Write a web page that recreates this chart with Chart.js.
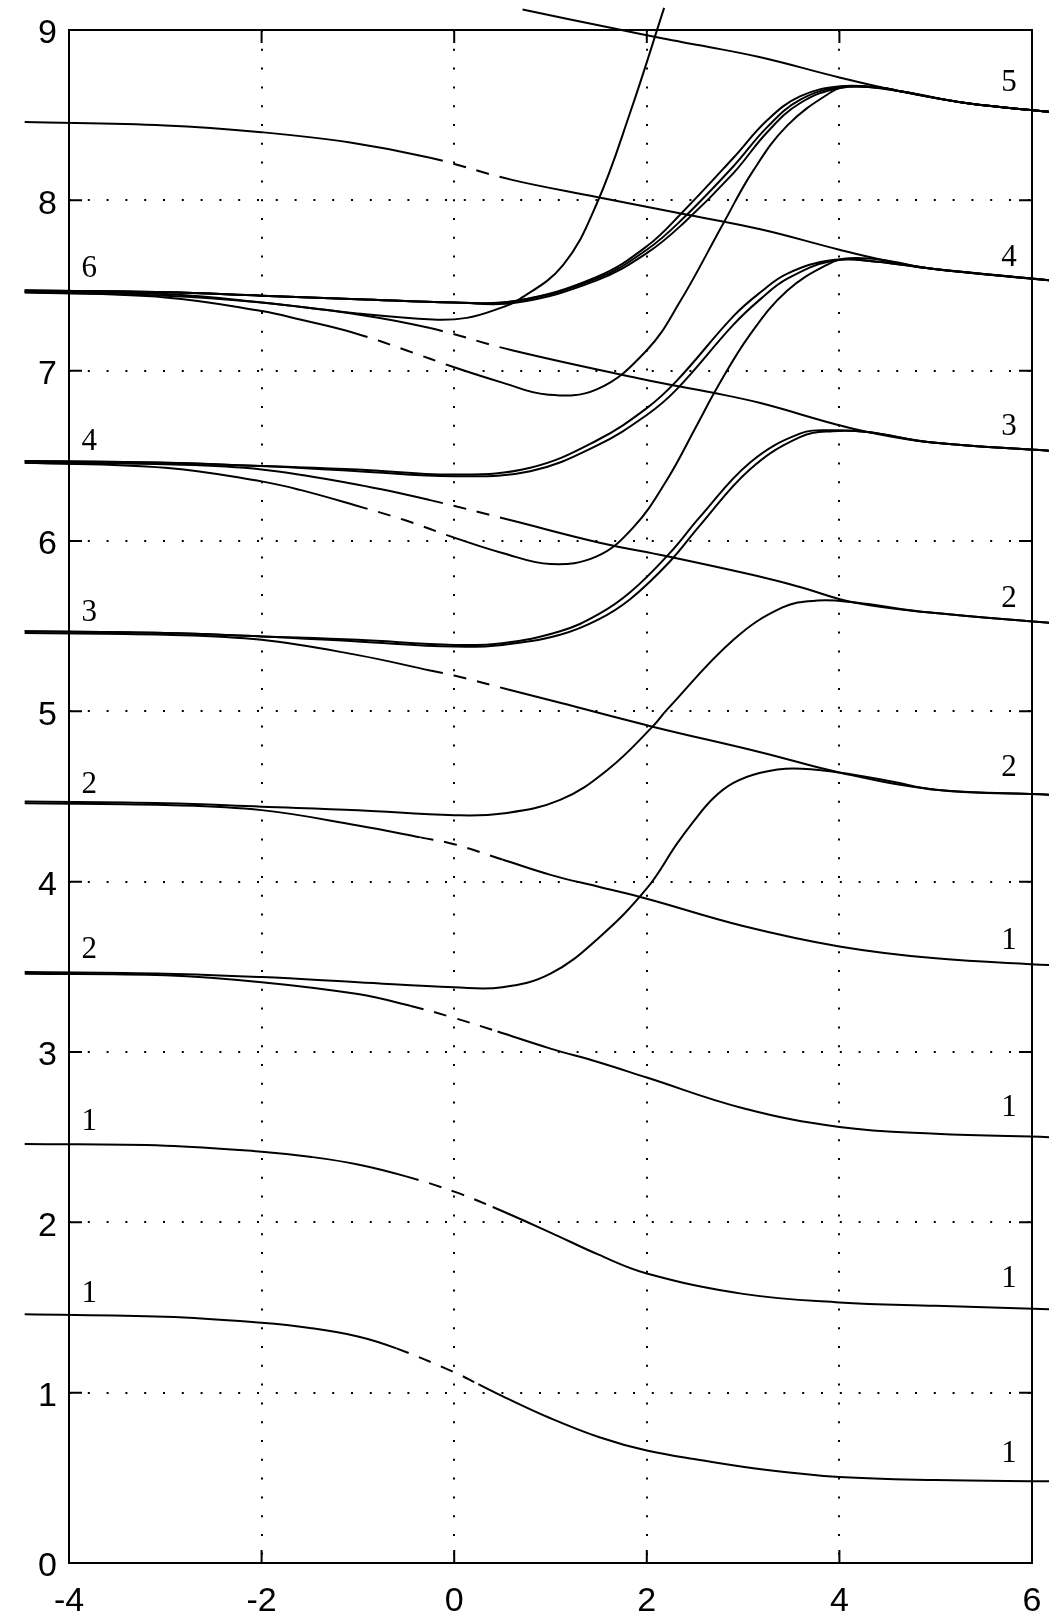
<!DOCTYPE html>
<html>
<head>
<meta charset="utf-8">
<script src="https://cdn.jsdelivr.net/npm/chart.js@4.4.1/dist/chart.umd.min.js"></script>
<style>
  html, body { margin: 0; padding: 0; background: #fff; overflow: hidden; }
  #wrap { position: relative; width: 1049px; height: 1621px; }
  #chart { display: block; }
</style>
</head>
<body>
<div id="wrap"><canvas id="chart"></canvas></div>
<script>
// axis ticks
const xTicks = [-4, -2, 0, 2, 4, 6];
const yTicks = [0, 1, 2, 3, 4, 5, 6, 7, 8, 9];

// descending curves [x, y]
const lineA1 = [[-4.46,1.46],[-3,1.445],[-2,1.41],[-1.5,1.38],[-1,1.33],[-0.6,1.26],[0,1.12],[0.25,1.05],[0.5,0.98],[1,0.85],[1.5,0.74],[2,0.66],[2.55,0.605],[3.25,0.546],[4,0.505],[5,0.487],[6.18,0.48]];
const lineA2 = [[-4.46,2.46],[-3,2.45],[-2,2.415],[-1.5,2.385],[-1,2.34],[-0.5,2.27],[0,2.18],[0.4,2.09],[1,1.94],[1.5,1.81],[2,1.70],[3,1.58],[4,1.53],[5,1.51],[6.18,1.49]];
const lineA3 = [[-4.46,3.46],[-3,3.45],[-2,3.41],[-1,3.34],[-0.45,3.27],[0,3.20],[0.45,3.12],[1,3.02],[1.5,2.94],[2,2.85],[3,2.67],[4,2.56],[5,2.52],[6.18,2.50]];
const lineA4 = [[-4.46,4.46],[-3,4.45],[-2,4.42],[-1,4.33],[-0.35,4.26],[0,4.22],[0.5,4.13],[1,4.04],[1.5,3.97],[2,3.90],[3,3.74],[4,3.62],[5,3.55],[6.18,3.51]];
const lineA5 = [[-4.46,5.46],[-3,5.45],[-2,5.42],[-1,5.33],[-0.25,5.24],[0,5.21],[0.55,5.13],[1.1,5.05],[2.06,4.91],[3.18,4.76],[4.01,4.64],[5,4.54],[6.18,4.51]];
const lineA6 = [[-4.46,6.46],[-3,6.45],[-2,6.42],[-1,6.33],[-0.25,6.24],[0.6,6.12],[1.51,5.99],[2.21,5.91],[3.18,5.79],[3.59,5.73],[4.14,5.64],[4.94,5.58],[6.18,5.52]];
const lineA7 = [[-4.46,7.46],[-3,7.45],[-2,7.40],[-1,7.33],[-0.25,7.25],[0.6,7.12],[1.96,6.95],[2.69,6.87],[3.18,6.81],[3.93,6.69],[4.29,6.64],[4.94,6.58],[6.18,6.53]];
const lineA8 = [[-4.46,8.46],[-3,8.44],[-2,8.40],[-1.08,8.34],[-0.25,8.25],[0.6,8.12],[1.48,8.02],[2.38,7.92],[3.18,7.83],[4.0,7.71],[4.45,7.65],[4.94,7.60],[6.18,7.53]];
const lineA9 = [[0.71,9.12],[1.65,9.01],[2.17,8.95],[2.55,8.91],[3.18,8.84],[4.01,8.72],[4.63,8.64],[5.33,8.57],[6.18,8.52]];

// rising curves
const riseB1 = [[-4.46,3.47],[-3,3.46],[-2,3.44],[-1,3.41],[0,3.38],[0.5,3.38],[1,3.46],[1.5,3.67],[2,3.96],[2.31,4.22],[2.48,4.35],[2.69,4.49],[2.9,4.58],[3.18,4.64],[3.52,4.665],[4.01,4.64],[4.53,4.59],[5,4.54],[6.18,4.51]];
const riseB2 = [[-4.46,4.47],[-3,4.46],[-2,4.44],[-1,4.42],[0,4.39],[0.5,4.40],[1.1,4.48],[1.6,4.66],[2.06,4.91],[2.21,5.01],[2.9,5.42],[3.41,5.61],[3.77,5.65],[4.14,5.64],[4.94,5.58],[6.18,5.52]];
const riseB3a = [[-4.46,5.47],[-3,5.46],[-2,5.44],[-1,5.42],[0,5.39],[0.5,5.40],[1.1,5.47],[1.5,5.57],[1.83,5.70],[2.24,5.93],[2.55,6.14],[3.07,6.46],[3.59,6.63],[3.93,6.65],[4.29,6.64],[4.94,6.58],[6.18,6.53]];
const riseB3b = [[-4.46,5.47],[-3,5.46],[-2,5.44],[-1,5.41],[0,5.38],[0.5,5.39],[1.1,5.45],[1.5,5.54],[1.83,5.66],[2.24,5.88],[2.55,6.09],[3.07,6.42],[3.59,6.61],[3.93,6.645],[4.29,6.64],[4.94,6.58],[6.18,6.53]];
const riseB4a = [[-4.46,6.47],[-3,6.46],[-2,6.44],[-1,6.42],[0,6.39],[0.79,6.43],[1.48,6.59],[2.0,6.78],[2.31,6.94],[2.9,7.32],[3.18,7.46],[3.46,7.57],[3.93,7.65],[4.39,7.64],[4.94,7.60],[6.18,7.53]];
const riseB4b = [[-4.46,6.47],[-3,6.46],[-2,6.44],[-1,6.41],[0,6.38],[0.79,6.41],[1.48,6.56],[2.0,6.74],[2.31,6.89],[2.9,7.27],[3.18,7.42],[3.46,7.54],[3.93,7.645],[4.39,7.64],[4.94,7.60],[6.18,7.53]];
const riseB5a = [[-4.46,7.47],[-3,7.46],[-2,7.44],[-1,7.42],[0,7.40],[0.65,7.41],[1.48,7.55],[2.0,7.73],[2.37,7.93],[2.9,8.25],[3.25,8.47],[3.59,8.61],[4.01,8.67],[4.45,8.66],[4.63,8.64],[5.33,8.57],[6.18,8.52]];
const riseB5b = [[-4.46,7.47],[-3,7.46],[-2,7.44],[-1,7.42],[0,7.40],[0.65,7.41],[1.48,7.54],[2.0,7.71],[2.37,7.89],[2.9,8.20],[3.25,8.43],[3.59,8.59],[4.01,8.665],[4.45,8.66],[4.63,8.64],[5.33,8.57],[6.18,8.52]];
const riseB5c = [[-4.46,7.47],[-3,7.46],[-2,7.44],[-1,7.42],[0,7.40],[0.65,7.40],[1.48,7.53],[2.0,7.69],[2.37,7.86],[2.9,8.16],[3.25,8.40],[3.59,8.57],[4.01,8.66],[4.45,8.66],[4.63,8.64],[5.33,8.57],[6.18,8.52]];

// dipping curves and the steep one
const dipC1 = [[-4.46,6.46],[-3,6.43],[-2,6.35],[-1.6,6.30],[-1.03,6.21],[-0.5,6.12],[0,6.02],[0.5,5.93],[1.0,5.865],[1.48,5.91],[1.86,6.08],[2.21,6.36],[2.52,6.68],[2.73,6.90],[3.07,7.21],[3.46,7.47],[3.9,7.63],[4.1,7.66],[4.45,7.65],[4.94,7.60],[6.18,7.53]];
const dipC2 = [[-4.46,7.46],[-3,7.43],[-2,7.35],[-1.6,7.30],[-1.03,7.22],[-0.5,7.12],[0,7.02],[0.5,6.93],[0.96,6.86],[1.48,6.89],[2.0,7.12],[2.35,7.41],[2.79,7.86],[3.1,8.17],[3.46,8.44],[3.9,8.63],[4.1,8.67],[4.63,8.64],[5.33,8.57],[6.18,8.52]];
const steepS = [[-4.46,7.46],[-3,7.44],[-2,7.40],[-1.08,7.34],[-0.22,7.30],[0.13,7.31],[0.44,7.36],[0.68,7.42],[1.13,7.62],[1.48,7.98],[1.83,8.52],[2.18,9.13]];

// x ranges drawn dashed
const dashA1 = [-0.6, 0.25];
const dashA2 = [-0.5, 0.4];
const dashA3 = [-0.45, 0.45];
const dashA4 = [-0.35, 0.5];
const dashA5 = [-0.25, 0.55];
const dashA6 = [-0.25, 0.6];
const dashA7 = [-0.25, 0.6];
const dashA8 = [-0.25, 0.6];
const dashC = [-1.03, 0];

// level labels
const leftLabels = ['6', '4', '3', '2', '2', '1', '1'];
const leftLabelY = [7.60, 6.58, 5.58, 4.57, 3.60, 2.59, 1.58];
const rightLabels = ['5', '4', '3', '2', '2', '1', '1', '1', '1'];
const rightLabelY = [8.69, 7.66, 6.67, 5.66, 4.67, 3.65, 2.67, 1.67, 0.64];
const leftLabelX = -3.79;
const rightLabelX = 5.76;

const curves = [
  [lineA1, dashA1], [lineA2, dashA2], [lineA3, dashA3], [lineA4, dashA4],
  [lineA5, dashA5], [lineA6, dashA6], [lineA7, dashA7], [lineA8, dashA8], [lineA9, null],
  [riseB1, null], [riseB2, null], [riseB3a, null], [riseB3b, null],
  [riseB4a, null], [riseB4b, null], [riseB5a, null], [riseB5b, null], [riseB5c, null],
  [dipC1, dashC], [dipC2, dashC], [steepS, null]
];

const datasets = curves.map(([pts, dash]) => ({
  data: pts.map(p => ({ x: p[0], y: p[1] })),
  borderColor: '#000',
  borderWidth: 2,
  pointRadius: 0,
  fill: false,
  clip: false,
  tension: 0.4,
  segment: {
    borderDash: ctx => (dash && ctx.p0.parsed.x >= dash[0] - 1e-6 && ctx.p1.parsed.x <= dash[1] + 1e-6) ? [13, 11] : undefined
  }
}));

const sansFont = { family: '"Liberation Sans", Arial, Helvetica, sans-serif', size: 34 };
const hideEnds = (lo, hi) => ctx => (ctx.tick && (ctx.tick.value === lo || ctx.tick.value === hi)) ? 'rgba(0,0,0,0)' : '#000';

const framePlugin = {
  id: 'frame',
  beforeDatasetsDraw(chart) {
    const { ctx, chartArea: a, scales: { x, y } } = chart;
    ctx.save();
    ctx.strokeStyle = '#000';
    ctx.lineWidth = 2;
    ctx.strokeRect(a.left, a.top, a.right - a.left, a.bottom - a.top);
    ctx.beginPath();
    xTicks.forEach(v => {
      const px = x.getPixelForValue(v);
      ctx.moveTo(px, a.bottom); ctx.lineTo(px, a.bottom - 13);
      ctx.moveTo(px, a.top); ctx.lineTo(px, a.top + 13);
    });
    yTicks.forEach(v => {
      const py = y.getPixelForValue(v);
      ctx.moveTo(a.left, py); ctx.lineTo(a.left + 13, py);
      ctx.moveTo(a.right, py); ctx.lineTo(a.right - 13, py);
    });
    ctx.stroke();
    ctx.restore();
  },
  afterDraw(chart) {
    const { ctx, scales: { x, y } } = chart;
    ctx.save();
    ctx.fillStyle = '#000';
    ctx.font = '31px "Liberation Serif", "Times New Roman", serif';
    ctx.textAlign = 'center';
    ctx.textBaseline = 'middle';
    leftLabels.forEach((t, i) => ctx.fillText(t, x.getPixelForValue(leftLabelX), y.getPixelForValue(leftLabelY[i])));
    rightLabels.forEach((t, i) => ctx.fillText(t, x.getPixelForValue(rightLabelX), y.getPixelForValue(rightLabelY[i])));
    ctx.restore();
  }
};

new Chart(document.getElementById('chart'), {
  type: 'line',
  data: { datasets },
  plugins: [framePlugin],
  options: {
    responsive: true,
    maintainAspectRatio: false,
    animation: false,
    layout: { padding: { top: 30, right: 17, left: 0, bottom: 0 } },
    plugins: { legend: { display: false }, tooltip: { enabled: false } },
    scales: {
      x: {
        type: 'linear', min: -4, max: 6,
        afterBuildTicks: s => { s.ticks = xTicks.map(v => ({ value: v })); },
        afterFit: s => { s.height = 58; s.paddingLeft = 0; s.paddingRight = 0; },
        grid: { color: hideEnds(-4, 6), lineWidth: 2, drawTicks: false },
        border: { display: false, dash: [2, 16.8] },
        ticks: { color: '#000', font: sansFont, padding: 18, maxRotation: 0, autoSkip: false }
      },
      y: {
        type: 'linear', min: 0, max: 9,
        afterBuildTicks: s => { s.ticks = yTicks.map(v => ({ value: v })); },
        afterFit: s => { s.width = 69; s.paddingTop = 0; s.paddingBottom = 0; },
        grid: { color: hideEnds(0, 9), lineWidth: 2, drawTicks: false },
        border: { display: false, dash: [2, 16.8] },
        ticks: { color: '#000', font: sansFont, padding: 12, labelOffset: 4, autoSkip: false }
      }
    }
  }
});
</script>
</body>
</html>
